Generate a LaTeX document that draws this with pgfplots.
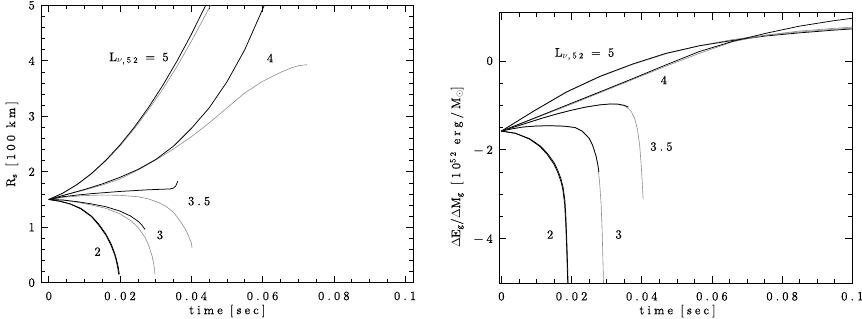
\documentclass[border=0pt]{standalone}
\usepackage{fontspec}
\setmainfont{lmroman10-regular.otf}[LetterSpace=25,FakeBold=0.3]
\usepackage{pgfplots}
\pgfplotsset{compat=1.18}
\pgfplotsset{
  myax/.style={
    scale only axis,
    axis line style={line width=0.7bp},
    tick align=inside,
    major tick length=7bp, minor tick length=4bp,
    every tick/.style={black, line width=0.6bp},
    xtick={0,0.02,0.04,0.06,0.08,0.1},
    xticklabels={0,0.02,0.04,0.06,0.08,0.1},
    scaled x ticks=false, scaled y ticks=false,
    minor x tick num=3,
    xticklabel style={yshift=-5.5bp},
    yticklabel style={xshift=-3bp},
    xlabel={time [sec]},
    clip=true,
  },
  sol/.style={black, line width=0.75bp, line join=round},
  dot/.style={black!45, line width=0.6bp, line join=round},
}
\begin{document}
\begin{tikzpicture}[font=\fontsize{12.5}{14}\selectfont]
\path[use as bounding box] (0,0) rectangle (862bp,319bp);
% ---------------- left panel ----------------
\begin{axis}[myax,
  at={(41.3bp,36.3bp)}, anchor=south west,
  width=372bp, height=277.4bp,
  xmin=-0.0021, xmax=0.1023, ymin=0, ymax=5,
  ytick={0,1,2,3,4,5}, yticklabels={0,1,2,3,4,5},
  minor y tick num=4,
  xlabel style={at={(axis description cs:0.5,-0.102)}, anchor=center},
  ylabel={R\textsubscript{s} [100 km]},
  ylabel style={at={(axis description cs:-0.079,0.5)}, anchor=center},
]
% L = 5
\addplot[dot] coordinates {(0,1.5) (0.004,1.615) (0.008,1.770) (0.012,1.962) (0.016,2.195) (0.020,2.465) (0.024,2.775) (0.028,3.120) (0.032,3.49) (0.036,3.90) (0.040,4.35) (0.044,4.83) (0.0454,5.0)};
\addplot[sol] coordinates {(0,1.5) (0.004,1.616) (0.008,1.773) (0.012,1.969) (0.016,2.207) (0.020,2.484) (0.024,2.802) (0.028,3.160) (0.032,3.558) (0.036,3.997) (0.040,4.476) (0.044,4.995) (0.0441,5.0)};
% L = 4
\addplot[dot] coordinates {(0,1.5) (0.005,1.59) (0.010,1.67) (0.015,1.76) (0.020,1.87) (0.025,2.03) (0.030,2.21) (0.035,2.41) (0.040,2.63) (0.045,2.88) (0.050,3.15) (0.055,3.42) (0.060,3.63) (0.065,3.79) (0.068,3.87) (0.070,3.91) (0.0725,3.93)};
\addplot[sol] coordinates {(0,1.5) (0.005,1.59) (0.010,1.68) (0.015,1.78) (0.020,1.90) (0.025,2.04) (0.030,2.22) (0.035,2.46) (0.040,2.78) (0.045,3.15) (0.050,3.62) (0.055,4.20) (0.0605,5.0)};
% L = 3.5
\addplot[dot] coordinates {(0,1.5) (0.005,1.545) (0.010,1.57) (0.015,1.58) (0.020,1.575) (0.025,1.55) (0.028,1.51) (0.031,1.44) (0.033,1.37) (0.035,1.27) (0.037,1.10) (0.038,1.00) (0.039,0.88) (0.040,0.72) (0.0402,0.63)};
\addplot[sol] coordinates {(0,1.5) (0.004,1.55) (0.008,1.58) (0.012,1.605) (0.016,1.625) (0.020,1.645) (0.024,1.66) (0.028,1.675) (0.032,1.685) (0.034,1.69) (0.035,1.705) (0.0356,1.74) (0.0362,1.83)};
% L = 3
\addplot[dot] coordinates {(0,1.5) (0.004,1.49) (0.008,1.45) (0.012,1.40) (0.016,1.34) (0.020,1.24) (0.023,1.12) (0.025,1.00) (0.027,0.82) (0.028,0.68) (0.029,0.48) (0.0295,0.32) (0.0298,0.15)};
\addplot[sol] coordinates {(0,1.5) (0.004,1.49) (0.008,1.46) (0.012,1.42) (0.016,1.37) (0.020,1.29) (0.023,1.20) (0.025,1.11) (0.026,1.05) (0.027,0.96)};
% L = 2
\addplot[sol] coordinates {(0,1.5) (0.003,1.47) (0.006,1.42) (0.009,1.34) (0.012,1.20) (0.014,1.06) (0.016,0.88) (0.0175,0.70) (0.0185,0.53) (0.019,0.42) (0.0195,0.28) (0.0198,0.15)};
\addplot[sol] coordinates {(0,1.5) (0.003,1.47) (0.006,1.42) (0.009,1.33) (0.012,1.19) (0.014,1.04) (0.016,0.86) (0.0175,0.67) (0.0185,0.50) (0.019,0.38) (0.0194,0.25) (0.0196,0.15)};
\node at (axis cs:0.0253,4.04) {L\textsubscript{$\nu$,52}\ =\ 5};
\node at (axis cs:0.0621,4.05) {4};
\node at (axis cs:0.0422,1.47) {3.5};
\node at (axis cs:0.0312,0.86) {3};
\node at (axis cs:0.0137,0.56) {2};
\end{axis}
% ---------------- right panel ----------------
\begin{axis}[myax,
  at={(499.3bp,36bp)}, anchor=south west,
  width=353bp, height=270.3bp,
  xmin=-0.0006, xmax=0.1, ymin=-5, ymax=1.085,
  ytick={-4,-2,0}, yticklabels={−4,−2,0},
  minor y tick num=3,
  xlabel style={at={(axis description cs:0.505,-0.104)}, anchor=center},
  ylabel={$\Delta$E\textsubscript{g}/$\Delta$M\textsubscript{g} [10\textsuperscript{52} erg/M\textsubscript{$\odot$}]},
  ylabel style={at={(axis description cs:-0.12,0.429)}, anchor=center},
]
% L = 5
\addplot[dot] coordinates {(0,-1.58) (0.0045,-1.36) (0.009,-1.14) (0.0185,-0.71) (0.028,-0.36) (0.0374,-0.08) (0.0469,0.16) (0.0564,0.34) (0.0659,0.48) (0.0753,0.58) (0.0848,0.65) (0.0943,0.71) (0.1,0.74)};
\addplot[sol] coordinates {(0,-1.58) (0.0045,-1.36) (0.009,-1.14) (0.0185,-0.70) (0.028,-0.35) (0.0374,-0.07) (0.0469,0.17) (0.0564,0.34) (0.0659,0.46) (0.0753,0.56) (0.0848,0.63) (0.0943,0.69) (0.1,0.72)};
% L = 4
\addplot[dot] coordinates {(0,-1.58) (0.009,-1.31) (0.0185,-1.02) (0.028,-0.72) (0.0374,-0.42) (0.0469,-0.12) (0.0564,0.17) (0.0659,0.43) (0.0753,0.58) (0.0848,0.67) (0.0943,0.73) (0.1,0.76)};
\addplot[sol] coordinates {(0,-1.58) (0.009,-1.30) (0.0185,-1.00) (0.028,-0.70) (0.0374,-0.40) (0.0469,-0.09) (0.0564,0.21) (0.0659,0.44) (0.0753,0.62) (0.0848,0.78) (0.0943,0.90) (0.1,0.96)};
% L = 3.5
\addplot[dot] coordinates {(0,-1.58) (0.004,-1.48) (0.008,-1.38) (0.012,-1.28) (0.016,-1.19) (0.020,-1.11) (0.024,-1.04) (0.028,-0.99) (0.031,-0.97) (0.033,-0.98) (0.035,-1.01) (0.036,-1.06) (0.037,-1.14) (0.038,-1.30) (0.0388,-1.55) (0.0394,-1.90) (0.0398,-2.30) (0.0401,-2.70) (0.0404,-3.12)};
\addplot[sol] coordinates {(0,-1.58) (0.004,-1.48) (0.008,-1.38) (0.012,-1.28) (0.016,-1.19) (0.020,-1.11) (0.024,-1.04) (0.028,-0.99) (0.031,-0.97) (0.033,-0.97) (0.035,-1.00) (0.0362,-1.04)};
% L = 3
\addplot[dot] coordinates {(0,-1.58) (0.003,-1.53) (0.006,-1.49) (0.010,-1.465) (0.014,-1.46) (0.018,-1.47) (0.021,-1.50) (0.023,-1.58) (0.025,-1.74) (0.026,-1.90) (0.027,-2.15) (0.0275,-2.35) (0.028,-2.75) (0.0284,-3.2) (0.0287,-3.8) (0.0289,-4.4) (0.0291,-5.0)};
\addplot[sol] coordinates {(0,-1.58) (0.003,-1.53) (0.006,-1.49) (0.010,-1.465) (0.014,-1.46) (0.018,-1.47) (0.021,-1.50) (0.023,-1.58) (0.025,-1.74) (0.026,-1.90) (0.027,-2.15) (0.0275,-2.35) (0.0278,-2.5)};
% L = 2
\addplot[sol] coordinates {(0,-1.58) (0.004,-1.63) (0.008,-1.75) (0.011,-1.91) (0.013,-2.07) (0.015,-2.29) (0.016,-2.45) (0.017,-2.66) (0.0176,-2.85) (0.0181,-3.15) (0.0184,-3.55) (0.0187,-4.2) (0.019,-5.0)};
\addplot[sol] coordinates {(0,-1.58) (0.004,-1.63) (0.008,-1.76) (0.011,-1.93) (0.013,-2.10) (0.015,-2.33) (0.016,-2.50) (0.017,-2.72) (0.0175,-2.90) (0.018,-3.2) (0.0183,-3.6) (0.0186,-4.2) (0.0189,-5.0)};
\node at (axis cs:0.0237,0.153) {L\textsubscript{$\nu$,52}\ =\ 5};
\node at (axis cs:0.0463,-0.43) {4};
\node at (axis cs:0.0456,-1.93) {3.5};
\node at (axis cs:0.0334,-3.91) {3};
\node at (axis cs:0.0139,-3.91) {2};
\end{axis}
\end{tikzpicture}
\end{document}
